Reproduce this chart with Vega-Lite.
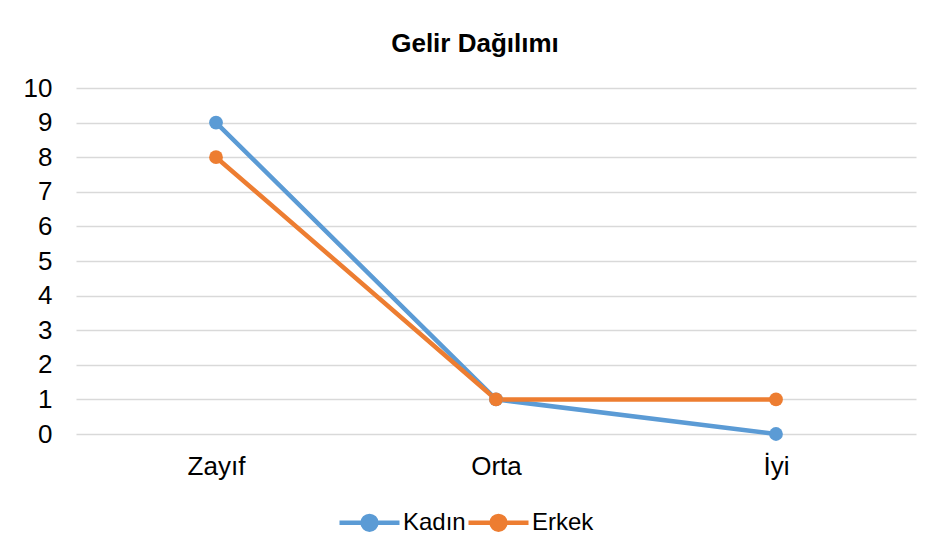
{
  "$schema": "https://vega.github.io/schema/vega-lite/v6.json",
  "width": 840,
  "height": 346,
  "autosize": {"type": "none"},
  "padding": {"left": 76, "top": 88, "right": 31, "bottom": 123},
  "background": "white",
  "title": {
    "text": "Gelir Dağılımı",
    "font": "Liberation Sans",
    "fontSize": 26,
    "fontWeight": "bold",
    "color": "#000000",
    "anchor": "middle",
    "dx": -21,
    "offset": 18
  },
  "data": {
    "values": [
      {"kategori": "Zayıf", "cinsiyet": "Kadın", "deger": 9},
      {"kategori": "Orta", "cinsiyet": "Kadın", "deger": 1},
      {"kategori": "İyi", "cinsiyet": "Kadın", "deger": 0},
      {"kategori": "Zayıf", "cinsiyet": "Erkek", "deger": 8},
      {"kategori": "Orta", "cinsiyet": "Erkek", "deger": 1},
      {"kategori": "İyi", "cinsiyet": "Erkek", "deger": 1}
    ]
  },
  "mark": {
    "type": "line",
    "strokeWidth": 4.5,
    "point": {"filled": true, "size": 190}
  },
  "encoding": {
    "x": {
      "field": "kategori",
      "type": "ordinal",
      "sort": ["Zayıf", "Orta", "İyi"],
      "scale": {"type": "point", "padding": 0.5},
      "axis": {
        "title": null,
        "labelAngle": 0,
        "domain": false,
        "ticks": false,
        "grid": false,
        "labelFont": "Liberation Sans",
        "labelFontSize": 26,
        "labelColor": "#000000",
        "labelPadding": 19
      }
    },
    "y": {
      "field": "deger",
      "type": "quantitative",
      "scale": {"domain": [0, 10]},
      "axis": {
        "title": null,
        "values": [0, 1, 2, 3, 4, 5, 6, 7, 8, 9, 10],
        "domain": false,
        "ticks": false,
        "gridColor": "#D9D9D9",
        "gridWidth": 1.5,
        "labelFont": "Liberation Sans",
        "labelFontSize": 26,
        "labelColor": "#000000",
        "labelPadding": 24
      }
    },
    "color": {
      "field": "cinsiyet",
      "type": "nominal",
      "sort": ["Kadın", "Erkek"],
      "scale": {"domain": ["Kadın", "Erkek"], "range": ["#5B9BD5", "#ED7D31"]},
      "legend": {
        "title": null,
        "orient": "none",
        "direction": "horizontal",
        "legendX": 261,
        "legendY": 402,
        "labelFont": "Liberation Sans",
        "labelFontSize": 24,
        "labelColor": "#000000",
        "symbolType": "M-1,0H1M-0.23,0A0.23,0.23 0 1,0 0.23,0A0.23,0.23 0 1,0 -0.23,0Z",
        "symbolSize": 3600,
        "symbolStrokeWidth": 4.5,
        "labelOffset": 1,
        "columnPadding": -10
      }
    }
  },
  "config": {
    "view": {"stroke": null}
  }
}
